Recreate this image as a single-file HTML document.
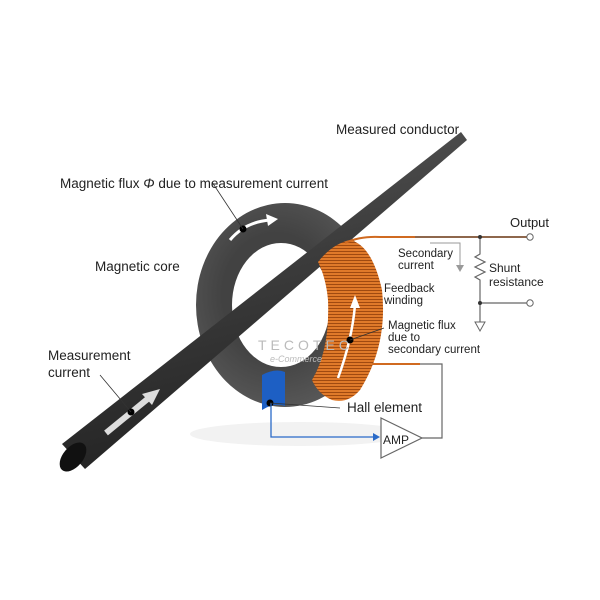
<!DOCTYPE html>
<html><head><meta charset="utf-8"><style>
body{margin:0;background:#fff}
svg{display:block}
text{font-family:"Liberation Sans",sans-serif;fill:#222}
</style></head><body>
<svg width="600" height="600" viewBox="0 0 600 600">
<defs>
<linearGradient id="rod" x1="0" y1="0" x2="0.3" y2="1">
<stop offset="0" stop-color="#5e5e5e"/><stop offset="0.5" stop-color="#3c3c3c"/><stop offset="1" stop-color="#222"/></linearGradient>
<radialGradient id="ring" cx="0.45" cy="0.45" r="0.6"><stop offset="0.5" stop-color="#424242"/><stop offset="1" stop-color="#5a5a5a"/></radialGradient>
<pattern id="coil" width="3" height="3" patternUnits="userSpaceOnUse"><rect width="3" height="3" fill="#e07a2a"/><rect y="2" width="3" height="1" fill="#a04a10"/></pattern>
</defs>
<ellipse cx="300" cy="434" rx="110" ry="12" fill="#f2f2f2"/>
<path fill-rule="evenodd" fill="url(#ring)" d="M196,305 a89,102 0 1,0 178,0 a89,102 0 1,0 -178,0 Z M232,305 a49,62 0 1,0 98,0 a49,62 0 1,0 -98,0 Z"/>
<path d="M230,240 Q245,222 270,220" stroke="#fff" stroke-width="3" fill="none"/>
<polygon points="278,219 266,214 268,226" fill="#fff"/>
<circle cx="243" cy="229" r="3.5" fill="#000"/>
<!-- rod -->
<polygon points="62,444 461,132 467,140 85,469" fill="url(#rod)"/>
<ellipse cx="73" cy="457" rx="10" ry="17" transform="rotate(40 73 457)" fill="#111"/>
<path d="M106,433 L150,397" stroke="#ddd" stroke-width="6"/>
<polygon points="160,389 142,394 152,405" fill="#ddd"/>
<circle cx="131" cy="412" r="3.5" fill="#000"/>
<!-- coil -->
<path d="M318,262 Q332,244 350,240 Q372,245 382,290 Q388,345 360,390 Q348,404 332,400 Q318,394 312,380 Q330,350 328,300 Q326,278 318,262 Z" fill="url(#coil)"/>
<path d="M345,243 Q360,236 380,237 L528,237" stroke="#d06a20" stroke-width="2" fill="none"/>
<path d="M372,364 L442,364 L442,438 L422,438" stroke="#666" stroke-width="1.2" fill="none"/>
<path d="M372,364 L420,364" stroke="#d06a20" stroke-width="2"/>
<path d="M415,237 L528,237" stroke="#666" stroke-width="1.2"/>
<path d="M338,378 Q352,340 355,305" stroke="#fff" stroke-width="2.5" fill="none"/>
<polygon points="355,295 350,308 360,308" fill="#fff"/>
<circle cx="350" cy="340" r="3.5" fill="#000"/>
<!-- hall -->
<path d="M262,375 Q275,368 285,372 L285,406 Q275,402 262,410 Z" fill="#1d5fc4"/>
<circle cx="270" cy="403" r="3.5" fill="#000"/>
<path d="M271,403 L271,437 L378,437" stroke="#2a6ac8" stroke-width="1.3" fill="none"/>
<polygon points="380,437 373,433 373,441" fill="#2a6ac8"/>
<polygon points="381,418 381,458 422,438" fill="#fff" stroke="#666" stroke-width="1.2"/>
<text x="383" y="444" font-size="12">AMP</text>
<!-- shunt -->
<path d="M480,237 L480,254 L475,257 L485,262 L475,267 L485,272 L475,277 L480,280 L480,322" stroke="#666" stroke-width="1.2" fill="none"/>
<path d="M480,303 L527,303" stroke="#666" stroke-width="1.2"/>
<polygon points="475,322 485,322 480,331" fill="#fff" stroke="#666"/>
<circle cx="480" cy="237" r="2" fill="#333"/><circle cx="480" cy="303" r="2" fill="#333"/>
<circle cx="530" cy="237" r="3.2" fill="#fff" stroke="#666"/><circle cx="530" cy="303" r="3.2" fill="#fff" stroke="#666"/>
<path d="M430,243 L460,243 L460,265" stroke="#999" fill="none"/>
<polygon points="456,265 464,265 460,272" fill="#999"/>
<path d="M212,182 L243,229" stroke="#333" stroke-width="0.8"/>
<path d="M100,375 L131,412" stroke="#333" stroke-width="0.8"/>
<path d="M270,403 L340,408" stroke="#333" stroke-width="0.8"/>
<path d="M350,340 L384,328" stroke="#333" stroke-width="0.8"/>
<text x="336" y="134" font-size="13.5">Measured conductor</text>
<text x="60" y="188" font-size="13.5">Magnetic flux <tspan font-style="italic">Φ</tspan> due to measurement current</text>
<text x="95" y="271" font-size="13.5">Magnetic core</text>
<text x="48" y="360" font-size="13.5">Measurement</text>
<text x="48" y="377" font-size="13.5">current</text>
<text x="510" y="227" font-size="13">Output</text>
<text x="398" y="257" font-size="11.5">Secondary</text>
<text x="398" y="269" font-size="11.5">current</text>
<text x="489" y="272" font-size="12">Shunt</text>
<text x="489" y="286" font-size="12">resistance</text>
<text x="384" y="292" font-size="11.5">Feedback</text>
<text x="384" y="304" font-size="11.5">winding</text>
<text x="388" y="329" font-size="11.5">Magnetic flux</text>
<text x="388" y="341" font-size="11.5">due to</text>
<text x="388" y="353" font-size="11.5">secondary current</text>
<text x="347" y="412" font-size="13.5">Hall element</text>
<text x="258" y="350" font-size="14" letter-spacing="4" style="fill:#bbb">TECOTEC</text>
<text x="270" y="362" font-size="9" font-style="italic" style="fill:#bbb">e-Commerce</text>
</svg>
</body></html>
